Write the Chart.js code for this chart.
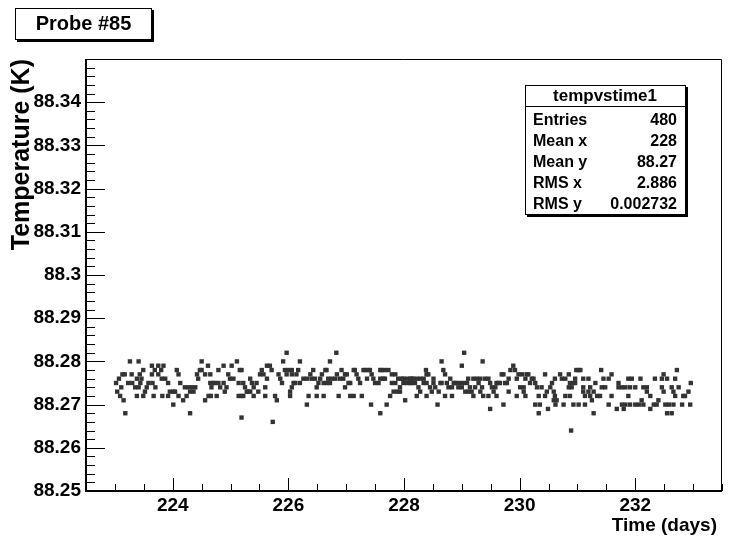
<!DOCTYPE html>
<html>
<head>
<meta charset="utf-8">
<title>Probe #85</title>
<script src="https://cdn.jsdelivr.net/npm/chart.js@4.4.1/dist/chart.umd.min.js"></script>
<style>
  html, body { margin: 0; padding: 0; background: #fff; }
  #wrap { width: 732px; height: 538px; }
</style>
</head>
<body>
<div id="wrap"><canvas id="myChart" width="732" height="538"></canvas></div>
<script>
// time of each reading (days) and the temperature read (K)
const days = [
  223.02, 223.04, 223.07, 223.09, 223.11, 223.13, 223.15, 223.17, 223.18, 223.23,
  223.26, 223.29, 223.30, 223.35, 223.38, 223.38, 223.41, 223.41, 223.43, 223.44,
  223.46, 223.49, 223.49, 223.52, 223.55, 223.58, 223.64, 223.64, 223.65, 223.67,
  223.69, 223.70, 223.75, 223.75, 223.80, 223.81, 223.82, 223.84, 223.87, 223.92,
  223.92, 223.95, 224.01, 224.01, 224.04, 224.07, 224.10, 224.10, 224.13, 224.18,
  224.21, 224.24, 224.27, 224.30, 224.30, 224.33, 224.36, 224.39, 224.42, 224.44,
  224.47, 224.50, 224.50, 224.56, 224.56, 224.61, 224.62, 224.65, 224.65, 224.66,
  224.67, 224.70, 224.73, 224.76, 224.79, 224.79, 224.82, 224.88, 224.88, 224.90,
  224.93, 224.96, 224.99, 225.02, 225.05, 225.11, 225.14, 225.14, 225.16, 225.19,
  225.19, 225.19, 225.22, 225.22, 225.25, 225.28, 225.31, 225.34, 225.34, 225.37,
  225.40, 225.40, 225.45, 225.48, 225.51, 225.54, 225.57, 225.60, 225.60, 225.63,
  225.63, 225.68, 225.71, 225.73, 225.77, 225.80, 225.83, 225.86, 225.89, 225.91,
  225.94, 225.97, 225.97, 226.00, 226.03, 226.03, 226.06, 226.06, 226.06, 226.09,
  226.12, 226.14, 226.17, 226.20, 226.20, 226.26, 226.32, 226.32, 226.35, 226.38,
  226.40, 226.43, 226.46, 226.49, 226.49, 226.52, 226.55, 226.58, 226.61, 226.61,
  226.64, 226.66, 226.66, 226.69, 226.72, 226.72, 226.75, 226.81, 226.83, 226.84,
  226.87, 226.89, 226.92, 226.95, 226.98, 226.98, 227.01, 227.04, 227.07, 227.07,
  227.13, 227.13, 227.15, 227.18, 227.21, 227.24, 227.27, 227.30, 227.33, 227.36,
  227.38, 227.41, 227.43, 227.44, 227.47, 227.50, 227.56, 227.59, 227.59, 227.59,
  227.61, 227.64, 227.67, 227.67, 227.70, 227.73, 227.76, 227.79, 227.79, 227.82,
  227.85, 227.85, 227.88, 227.90, 227.93, 227.93, 227.96, 227.99, 227.99, 228.02,
  228.05, 228.05, 228.11, 228.11, 228.13, 228.13, 228.16, 228.19, 228.22, 228.22,
  228.25, 228.28, 228.28, 228.34, 228.34, 228.38, 228.39, 228.39, 228.39, 228.42,
  228.45, 228.48, 228.51, 228.51, 228.54, 228.58, 228.60, 228.63, 228.65, 228.65,
  228.68, 228.71, 228.71, 228.74, 228.77, 228.80, 228.83, 228.83, 228.86, 228.88,
  228.91, 228.94, 228.97, 229.00, 229.00, 229.03, 229.04, 229.06, 229.09, 229.11,
  229.11, 229.14, 229.17, 229.20, 229.20, 229.23, 229.26, 229.29, 229.32, 229.32,
  229.35, 229.36, 229.37, 229.40, 229.46, 229.46, 229.49, 229.49, 229.52, 229.55,
  229.58, 229.60, 229.60, 229.63, 229.66, 229.69, 229.72, 229.72, 229.75, 229.78,
  229.81, 229.81, 229.84, 229.89, 229.92, 229.95, 229.95, 229.98, 230.01, 230.04,
  230.07, 230.07, 230.10, 230.10, 230.12, 230.15, 230.18, 230.21, 230.24, 230.27,
  230.27, 230.30, 230.33, 230.33, 230.35, 230.38, 230.44, 230.44, 230.47, 230.49,
  230.53, 230.56, 230.59, 230.59, 230.61, 230.61, 230.62, 230.64, 230.70, 230.73,
  230.76, 230.79, 230.79, 230.85, 230.85, 230.87, 230.87, 230.89, 230.90, 230.93,
  230.93, 230.96, 230.96, 230.98, 231.02, 231.02, 231.05, 231.10, 231.10, 231.10,
  231.13, 231.13, 231.19, 231.19, 231.22, 231.22, 231.25, 231.28, 231.28, 231.31,
  231.34, 231.39, 231.41, 231.42, 231.45, 231.48, 231.54, 231.54, 231.59, 231.59,
  231.68, 231.71, 231.71, 231.77, 231.77, 231.80, 231.83, 231.83, 231.88, 231.88,
  231.91, 231.91, 231.94, 232.00, 232.00, 232.06, 232.09, 232.11, 232.14, 232.14,
  232.20, 232.20, 232.26, 232.26, 232.32, 232.34, 232.37, 232.40, 232.46, 232.46,
  232.49, 232.49, 232.52, 232.55, 232.55, 232.58, 232.63, 232.63, 232.66, 232.66,
  232.69, 232.69, 232.72, 232.75, 232.81, 232.83, 232.86, 232.92, 232.95, 232.96
];
const temps = [
  88.275, 88.273, 88.276, 88.272, 88.274, 88.277, 88.271, 88.277, 88.268, 88.275,
  88.280, 88.277, 88.275, 88.274, 88.276, 88.272, 88.280, 88.274, 88.277, 88.275,
  88.276, 88.278, 88.272, 88.273, 88.274, 88.275, 88.279, 88.277, 88.275, 88.272,
  88.278, 88.274, 88.279, 88.277, 88.278, 88.276, 88.272, 88.279, 88.276, 88.275,
  88.272, 88.273, 88.273, 88.270, 88.273, 88.278, 88.277, 88.272, 88.275, 88.271,
  88.274, 88.272, 88.274, 88.273, 88.268, 88.274, 88.273, 88.274, 88.277, 88.276,
  88.278, 88.278, 88.280, 88.277, 88.271, 88.279, 88.272, 88.275, 88.277, 88.272,
  88.274, 88.275, 88.275, 88.272, 88.278, 88.275, 88.274, 88.279, 88.275, 88.273,
  88.274, 88.277, 88.276, 88.279, 88.276, 88.280, 88.275, 88.272, 88.278, 88.278,
  88.272, 88.267, 88.275, 88.272, 88.274, 88.273, 88.273, 88.276, 88.273, 88.275,
  88.274, 88.272, 88.275, 88.273, 88.277, 88.278, 88.277, 88.274, 88.272, 88.279,
  88.276, 88.279, 88.278, 88.266, 88.272, 88.271, 88.277, 88.276, 88.275, 88.280,
  88.278, 88.282, 88.277, 88.278, 88.273, 88.272, 88.278, 88.277, 88.274, 88.275,
  88.275, 88.277, 88.278, 88.280, 88.275, 88.276, 88.276, 88.270, 88.272, 88.277,
  88.276, 88.278, 88.276, 88.274, 88.272, 88.275, 88.276, 88.277, 88.275, 88.272,
  88.278, 88.278, 88.275, 88.276, 88.280, 88.275, 88.276, 88.276, 88.282, 88.277,
  88.272, 88.276, 88.278, 88.276, 88.277, 88.274, 88.277, 88.275, 88.275, 88.272,
  88.278, 88.272, 88.278, 88.277, 88.276, 88.275, 88.272, 88.278, 88.278, 88.276,
  88.278, 88.278, 88.270, 88.277, 88.276, 88.275, 88.275, 88.278, 88.268, 88.276,
  88.278, 88.276, 88.276, 88.278, 88.270, 88.278, 88.272, 88.277, 88.275, 88.273,
  88.277, 88.275, 88.273, 88.276, 88.274, 88.273, 88.276, 88.276, 88.275, 88.271,
  88.276, 88.275, 88.276, 88.275, 88.276, 88.275, 88.276, 88.275, 88.276, 88.272,
  88.274, 88.276, 88.273, 88.276, 88.275, 88.278, 88.277, 88.275, 88.272, 88.277,
  88.274, 88.273, 88.276, 88.275, 88.274, 88.270, 88.273, 88.275, 88.280, 88.275,
  88.278, 88.277, 88.272, 88.275, 88.274, 88.276, 88.274, 88.272, 88.275, 88.275,
  88.275, 88.274, 88.275, 88.279, 88.274, 88.275, 88.282, 88.273, 88.275, 88.276,
  88.273, 88.274, 88.273, 88.276, 88.272, 88.274, 88.276, 88.275, 88.276, 88.273,
  88.274, 88.280, 88.272, 88.276, 88.276, 88.272, 88.275, 88.269, 88.274, 88.273,
  88.274, 88.275, 88.272, 88.275, 88.275, 88.277, 88.277, 88.270, 88.275, 88.275,
  88.276, 88.273, 88.278, 88.279, 88.278, 88.276, 88.272, 88.277, 88.274, 88.277,
  88.274, 88.273, 88.276, 88.272, 88.277, 88.277, 88.275, 88.276, 88.276, 88.275,
  88.270, 88.274, 88.272, 88.268, 88.270, 88.274, 88.277, 88.272, 88.273, 88.269,
  88.274, 88.275, 88.273, 88.271, 88.276, 88.272, 88.270, 88.271, 88.277, 88.276,
  88.270, 88.276, 88.272, 88.277, 88.274, 88.275, 88.272, 88.264, 88.274, 88.275,
  88.270, 88.276, 88.275, 88.278, 88.278, 88.270, 88.278, 88.276, 88.274, 88.273,
  88.272, 88.270, 88.276, 88.273, 88.274, 88.272, 88.271, 88.273, 88.268, 88.275,
  88.272, 88.272, 88.278, 88.274, 88.276, 88.274, 88.276, 88.270, 88.277, 88.272,
  88.269, 88.275, 88.274, 88.274, 88.270, 88.269, 88.274, 88.270, 88.276, 88.272,
  88.274, 88.270, 88.276, 88.274, 88.270, 88.270, 88.276, 88.271, 88.274, 88.270,
  88.274, 88.273, 88.272, 88.269, 88.270, 88.276, 88.270, 88.271, 88.276, 88.274,
  88.277, 88.273, 88.270, 88.276, 88.268, 88.270, 88.274, 88.268, 88.273, 88.270,
  88.276, 88.272, 88.278, 88.274, 88.270, 88.272, 88.272, 88.273, 88.270, 88.275
];

const xTicks = [224, 226, 228, 230, 232];
const yTicks = [88.25, 88.26, 88.27, 88.28, 88.29, 88.30, 88.31, 88.32, 88.33, 88.34];
const statsLabels = ['Entries', 'Mean x', 'Mean y', 'RMS x', 'RMS y'];
const statsValues = ['480', '228', '88.27', '2.886', '0.002732'];

const FONT = "'Liberation Sans', Arial, Helvetica, sans-serif";
Chart.defaults.font.family = FONT;
Chart.defaults.color = '#000';

function drawBox(ctx, x, y, w, h) {
  ctx.fillStyle = '#000';
  ctx.fillRect(x + 2, y + 2, w, h);
  ctx.fillStyle = '#fff';
  ctx.fillRect(x, y, w, h);
  ctx.strokeStyle = '#000';
  ctx.lineWidth = 1;
  ctx.strokeRect(x + 0.5, y + 0.5, w - 1, h - 1);
}

// frame, inner ticks, title box and stats box (ROOT look)
const rootDecor = {
  id: 'rootDecor',
  afterDraw(chart) {
    const ctx = chart.ctx;
    const a = chart.chartArea;
    const xs = chart.scales.x, ys = chart.scales.y;
    ctx.save();
    ctx.strokeStyle = '#000';
    ctx.lineWidth = 1;
    ctx.beginPath();
    for (let i = 0; i <= 22; i++) {
      const v = 222.5 + i * 0.5;
      const px = Math.round(xs.getPixelForValue(v)) + 0.5;
      const len = (i % 4 === 3) ? 13 : 7;
      ctx.moveTo(px, a.bottom);
      ctx.lineTo(px, a.bottom - len);
    }
    for (let i = 0; i <= 50; i++) {
      const v = 88.25 + i * 0.002;
      const py = Math.round(ys.getPixelForValue(v)) + 0.5;
      const len = (i % 5 === 0) ? 19 : 9;
      ctx.moveTo(a.left, py);
      ctx.lineTo(a.left + len, py);
    }
    // thin top and right sides of the frame
    ctx.moveTo(a.left, a.top + 0.5);
    ctx.lineTo(a.right - 0.5, a.top + 0.5);
    ctx.lineTo(a.right - 0.5, a.bottom);
    ctx.stroke();
    // heavier axis lines
    ctx.lineWidth = 2;
    ctx.beginPath();
    ctx.moveTo(a.left, a.top);
    ctx.lineTo(a.left, a.bottom);
    ctx.lineTo(a.right, a.bottom);
    ctx.stroke();

    // x axis title
    ctx.fillStyle = '#000';
    ctx.font = 'bold 19px ' + FONT;
    ctx.textAlign = 'right';
    ctx.textBaseline = 'middle';
    ctx.fillText('Time (days)', 717, 526);

    // title box
    drawBox(ctx, 15, 8, 137, 32);
    ctx.fillStyle = '#000';
    ctx.font = 'bold 20px ' + FONT;
    ctx.textAlign = 'center';
    ctx.fillText('Probe #85', 83.5, 24.5);

    // stats box
    drawBox(ctx, 525, 85, 161, 130);
    ctx.beginPath();
    ctx.moveTo(525, 106.5);
    ctx.lineTo(686, 106.5);
    ctx.lineWidth = 1;
    ctx.stroke();
    ctx.fillStyle = '#000';
    ctx.font = 'bold 17px ' + FONT;
    ctx.textAlign = 'center';
    ctx.fillText(chart.data.datasets[0].label, 605, 96);
    ctx.font = 'bold 16px ' + FONT;
    statsLabels.forEach((lab, i) => {
      const y = 121 + i * 20.8;
      ctx.textAlign = 'left';
      ctx.fillText(lab, 533, y);
      ctx.textAlign = 'right';
      ctx.fillText(statsValues[i], 677, y);
    });
    ctx.restore();
  }
};

const points = days.map((d, i) => ({x: d, y: temps[i]}));

const ctx = document.getElementById('myChart').getContext('2d');
const scatterChart = new Chart(ctx, {
  type: 'scatter',
  data: {
    datasets: [{
      label: 'tempvstime1',
      data: points,
      pointStyle: 'rect',
      pointRadius: 3.1,
      pointHoverRadius: 3.1,
      backgroundColor: '#333',
      borderWidth: 0
    }]
  },
  options: {
    responsive: false,
    animation: false,
    devicePixelRatio: 1,
    layout: { padding: { top: 59, right: 10, left: 0, bottom: 0 } },
    plugins: { legend: { display: false }, tooltip: { enabled: false } },
    scales: {
      x: {
        type: 'linear',
        min: 222.5,
        max: 233.5,
        grid: { display: false, drawTicks: false },
        border: { display: false },
        afterBuildTicks: s => { s.ticks = xTicks.map(v => ({value: v})); },
        afterFit: s => { s.height = 47; },
        ticks: {
          font: { size: 19, weight: 'bold' },
          padding: 3,
          maxRotation: 0,
          autoSkip: false,
          callback: v => String(v)
        }
      },
      y: {
        type: 'linear',
        min: 88.25,
        max: 88.35,
        grid: { display: false, drawTicks: false },
        border: { display: false },
        afterBuildTicks: s => { s.ticks = yTicks.map(v => ({value: v})); },
        afterFit: s => { s.width = 86; },
        title: {
          display: true,
          text: 'Temperature (K)',
          align: 'end',
          font: { size: 25, weight: 'bold' },
          padding: { top: 7, bottom: 0 }
        },
        ticks: {
          font: { size: 19, weight: 'bold' },
          padding: 5,
          autoSkip: false,
          callback: v => Number(v.toFixed(2)).toString()
        }
      }
    }
  },
  plugins: [rootDecor]
});
</script>
</body>
</html>
